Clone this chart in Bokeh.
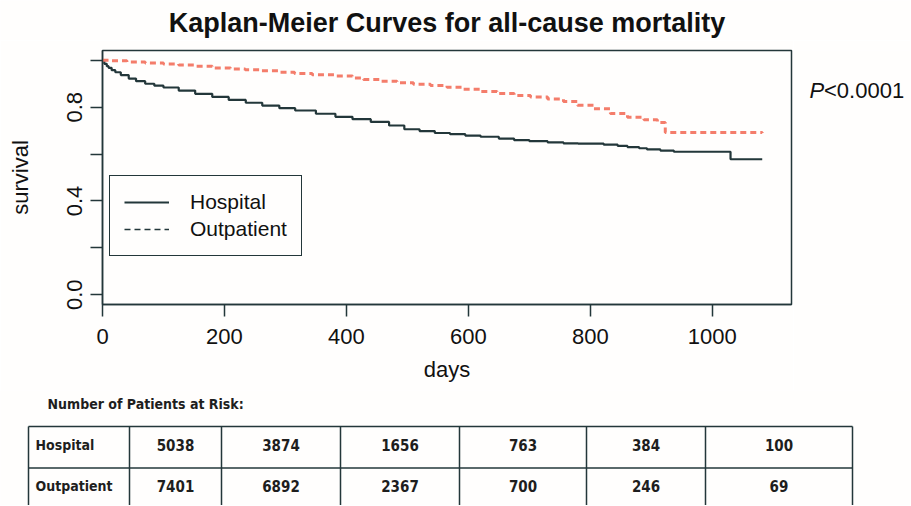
from bokeh.plotting import figure
from bokeh.models import Range1d, FixedTicker, PrintfTickFormatter, Legend, LegendItem
from bokeh.layouts import row
from bokeh.embed import file_html
from bokeh.resources import INLINE
from bokeh.core.properties import value

# ---------------- data ----------------
title_text = "Kaplan-Meier Curves for all-cause mortality"
group_names = ["Hospital", "Outpatient"]

hosp_days = [0, 3, 7, 10, 15, 21, 30, 43, 55, 70, 85, 100, 125, 152, 180, 207, 235, 262,
             290, 316, 350, 382, 410, 440, 470, 495, 520, 545, 570, 595, 620, 650, 675,
             700, 730, 756, 780, 822, 845, 861, 880, 893, 915, 937, 1030, 1082]
hosp_surv = [1.000, 0.985, 0.975, 0.968, 0.958, 0.949, 0.937, 0.922, 0.911, 0.900, 0.892,
             0.884, 0.871, 0.857, 0.844, 0.831, 0.819, 0.807, 0.796, 0.786, 0.772, 0.759,
             0.749, 0.737, 0.722, 0.706, 0.698, 0.690, 0.685, 0.679, 0.674, 0.666, 0.660,
             0.655, 0.650, 0.646, 0.645, 0.640, 0.635, 0.630, 0.625, 0.620, 0.615, 0.610,
             0.578, 0.578]

outp_days = [0, 12, 40, 70, 100, 125, 150, 180, 210, 234, 260, 289, 315, 344, 380, 410,
             428, 455, 483, 510, 538, 565, 592, 620, 647, 675, 702, 730, 756, 779, 806,
             833, 861, 888, 910, 923, 1082]
outp_surv = [1.000, 0.998, 0.993, 0.989, 0.984, 0.980, 0.975, 0.967, 0.963, 0.960, 0.955,
             0.949, 0.944, 0.938, 0.933, 0.925, 0.918, 0.911, 0.904, 0.898, 0.893, 0.885,
             0.877, 0.867, 0.858, 0.850, 0.843, 0.835, 0.824, 0.808, 0.793, 0.773, 0.757,
             0.746, 0.735, 0.692, 0.690]

x_ticks = [0, 200, 400, 600, 800, 1000]
y_ticks_labeled = [0.0, 0.4, 0.8]
y_ticks_unlabeled = [0.2, 0.6, 1.0]
x_label = "days"
y_label = "survival"
p_value_italic = "P"
p_value_rest = "<0.0001"

risk_title = "Number of Patients at Risk:"
risk_rows = ["Hospital", "Outpatient"]
risk_hospital = [5038, 3874, 1656, 763, 384, 100]
risk_outpatient = [7401, 6892, 2367, 700, 246, 69]

# ---------------- style / layout ----------------
INK = "#23373a"
RED = "#f47d6b"
BG = "#fffefd"
TXT = "#111111"
FONT = "Liberation Sans"
TFONT = "DejaVu Sans Condensed, DejaVu Sans"
NAN = float("nan")

W = 910
W1 = 793
H0 = 40          # title band
H1 = 350         # plot band
H2 = 115         # risk table band
FRAME_TOP = 50 - H0
FRAME_BOTTOM = 304 - H0


def bare(width, height, xr, yr, **kw):
    f = figure(width=width, height=height, x_range=xr, y_range=yr,
               output_backend="svg", toolbar_location=None,
               x_axis_location=None, y_axis_location=None,
               background_fill_color=BG, border_fill_color=BG, outline_line_color=None, **kw)
    f.grid.visible = False
    return f


# ---------------- title band ----------------
ttl = bare(W, H0, Range1d(0, W), Range1d(H0, 0), min_border=0)
ttl.text(x=[(102 + 791) / 2], y=[22.6], text=[title_text], text_font=value(FONT),
         text_font_size="27px", text_font_style="bold", text_color=TXT,
         text_align="center", text_baseline="middle")

# ---------------- main plot ----------------
p = figure(width=W1, height=H1, x_range=Range1d(0, 1130), y_range=Range1d(-0.0414, 1.0418),
           output_backend="svg", toolbar_location=None,
           min_border_left=102, min_border_right=W1 - 791, min_border_top=FRAME_TOP,
           min_border_bottom=H1 - FRAME_BOTTOM,
           background_fill_color=BG, border_fill_color=BG)
p.grid.visible = False
p.outline_line_color = INK
p.outline_line_width = 1.5

for ax in (p.xaxis[0], p.yaxis[0]):
    ax.axis_line_color = INK
    ax.axis_line_width = 1.5
    ax.major_tick_line_color = INK
    ax.major_tick_line_width = 1.5
    ax.major_tick_out = 12
    ax.major_tick_in = 0
    ax.major_label_text_font = FONT
    ax.major_label_text_font_size = "22px"
    ax.major_label_text_color = TXT
    ax.axis_label_text_font = FONT
    ax.axis_label_text_font_size = "22px"
    ax.axis_label_text_font_style = "normal"
    ax.axis_label_text_color = TXT

p.xaxis.ticker = FixedTicker(ticks=x_ticks)
p.xaxis.minor_tick_line_color = None
p.xaxis.axis_label = x_label
p.xaxis.major_label_standoff = 12
p.xaxis.axis_label_standoff = 10

p.yaxis.ticker = FixedTicker(ticks=y_ticks_labeled, minor_ticks=y_ticks_unlabeled)
p.yaxis.formatter = PrintfTickFormatter(format="%.1f")
p.yaxis.major_label_orientation = "vertical"
p.yaxis.minor_tick_line_color = INK
p.yaxis.minor_tick_line_width = 1.5
p.yaxis.minor_tick_out = 12
p.yaxis.minor_tick_in = 0
p.yaxis.axis_label = y_label
p.yaxis.major_label_standoff = 8
p.yaxis.axis_label_standoff = 32

r_h = p.step(hosp_days, hosp_surv, mode="after", line_color=INK, line_width=2.2)
r_o = p.step(outp_days, outp_surv, mode="after", line_color=RED, line_width=3, line_dash="6 4")
# legend proxy (black dashed key, as in the original legend)
leg_o = p.line(x=[NAN], y=[NAN], line_color=INK, line_width=1.5, line_dash="6 4")

legend = Legend(items=[LegendItem(label=group_names[0], renderers=[r_h]),
                       LegendItem(label=group_names[1], renderers=[leg_o])],
                location=(7, 48), border_line_color=INK, border_line_width=1.5,
                border_line_alpha=1.0,
                background_fill_color=BG, background_fill_alpha=1.0,
                label_text_font=FONT, label_text_font_size="21px", label_text_color=TXT,
                glyph_width=45, glyph_height=24, label_height=24, label_standoff=21,
                padding=14, spacing=3, margin=0)
p.add_layout(legend)

# ---------------- p-value panel (right of the plot, same vertical scale) ----------------
q = bare(W - W1, H1, Range1d(0, W - W1), p.y_range,
         min_border_left=0, min_border_right=0, min_border_top=FRAME_TOP,
         min_border_bottom=H1 - FRAME_BOTTOM)
pv_x = [16]
pv_y = [0.8733]
q.text(x=pv_x, y=pv_y, text=[p_value_italic], text_font=value(FONT), text_font_size="22px",
       text_font_style="italic", text_color=TXT, text_baseline="middle")
q.text(x=pv_x, y=pv_y, text=[p_value_rest], x_offset=14.5, text_font=value(FONT),
       text_font_size="22px", text_color=TXT, text_baseline="middle")

# ---------------- risk table ----------------
t = bare(W, H2, Range1d(0, W), Range1d(H2, 0), min_border=0)

col_edges = [28, 129, 221, 340, 459, 586, 705, 852]
row_edges = [36, 77.5, 119]

t.segment(x0=[col_edges[0]] * 2, x1=[col_edges[-1]] * 2, y0=row_edges[:2], y1=row_edges[:2],
          line_color=INK, line_width=1.5)
t.segment(x0=col_edges, x1=col_edges, y0=[row_edges[0]] * len(col_edges),
          y1=[row_edges[-1]] * len(col_edges), line_color=INK, line_width=1.5)

row_centers = [(row_edges[i] + row_edges[i + 1]) / 2 - 2.5 for i in range(2)]
col_centers = [(col_edges[i] + col_edges[i + 1]) / 2 for i in range(1, len(col_edges) - 1)]

t.text(x=[col_edges[0] + 7] * 2, y=row_centers, text=risk_rows, text_font=value(TFONT),
       text_font_size="14px", text_font_style="bold", text_color="#1e1e1e",
       text_align="left", text_baseline="middle")
for vals, yc in ((risk_hospital, row_centers[0]), (risk_outpatient, row_centers[1])):
    t.text(x=col_centers, y=[yc] * len(vals), text=[str(v) for v in vals],
           text_font=value(TFONT), text_font_size="15px", text_font_style="bold",
           text_color="#1e1e1e", text_align="center", text_baseline="middle")

t.text(x=[47], y=[13], text=[risk_title], text_font=value(TFONT), text_font_size="14px",
       text_font_style="bold", text_color="#1e1e1e", text_align="left", text_baseline="middle")

open("out.html", "w").write(file_html([ttl, row(p, q), t], INLINE))
